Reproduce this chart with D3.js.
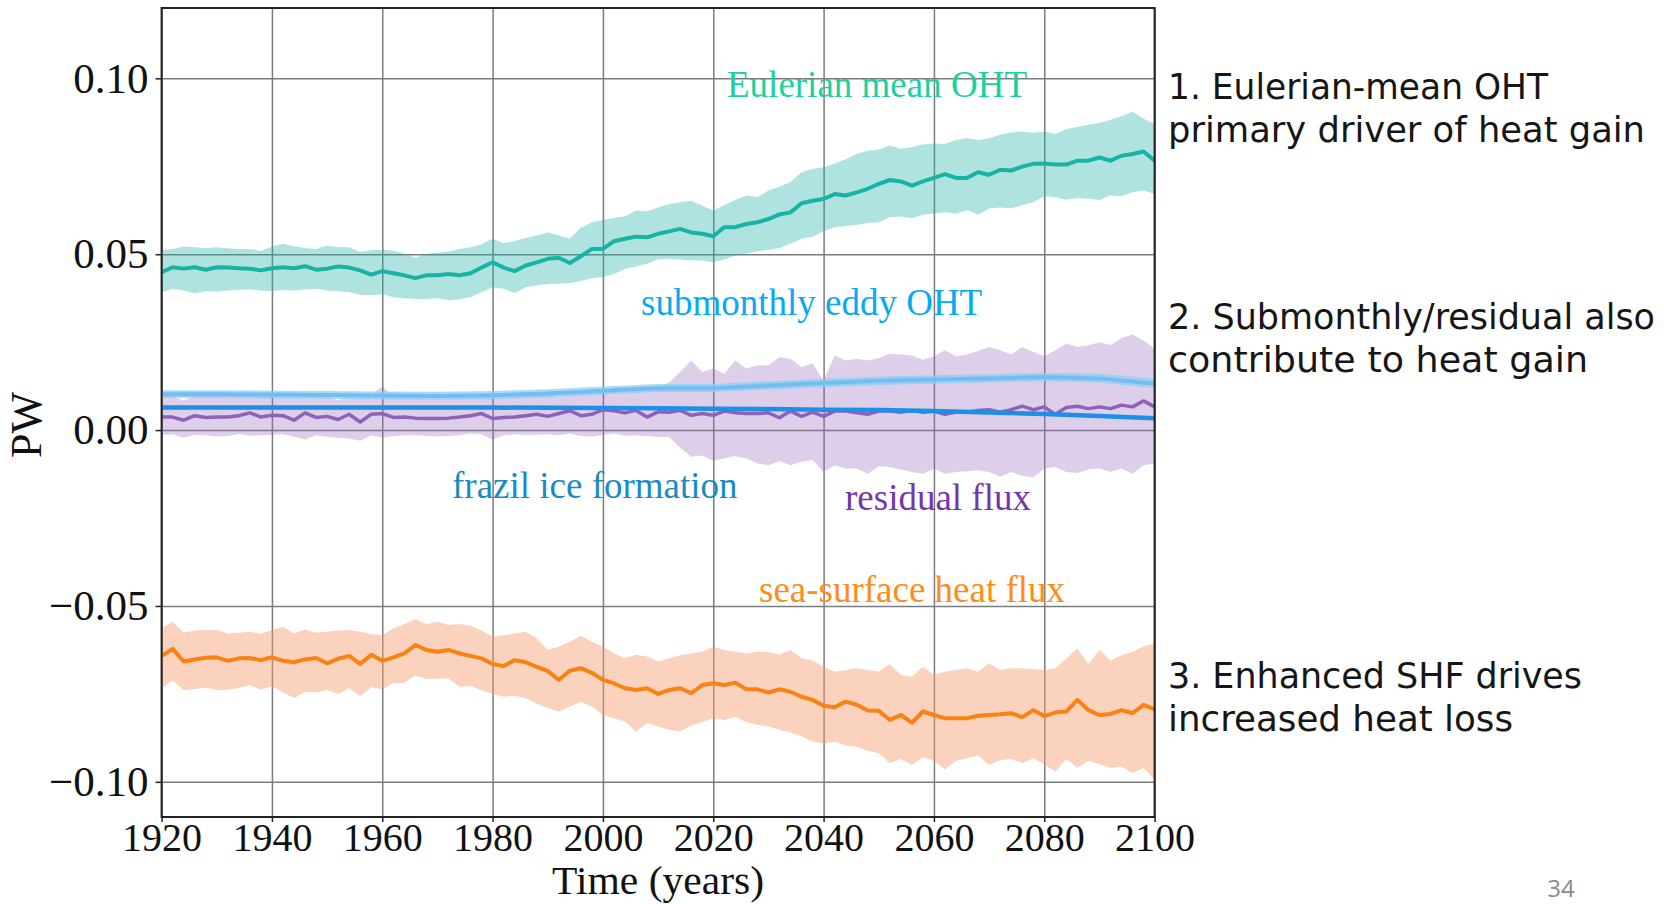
<!DOCTYPE html>
<html>
<head>
<meta charset="utf-8">
<script src="https://cdn.jsdelivr.net/npm/d3@7"></script>
<style>
  body { margin: 0; background: #ffffff; }
  svg { display: block; }
</style>
</head>
<body>
<svg id="chart" width="1664" height="904"></svg>
<script>
// ---- data (PW), sampled every two years 1920–2100 ----
const years = d3.range(1920, 2101, 2);

const eulerMean = [
  .0449,.0463,.0459,.0463,.0456,.0463,.0462,.0460,.0459,.0454,
  .0460,.0463,.0460,.0466,.0456,.0459,.0465,.0462,.0454,.0442,
  .0452,.0446,.0440,.0432,.0440,.0440,.0444,.0440,.0446,.0462,
  .0477,.0462,.0452,.0468,.0477,.0487,.0490,.0475,.0494,.0515,
  .0515,.0537,.0544,.0550,.0548,.0558,.0565,.0572,.0562,.0558,
  .0551,.0577,.0577,.0586,.0591,.0600,.0613,.0619,.0645,.0652,
  .0657,.0671,.0667,.0676,.0686,.0700,.0711,.0707,.0695,.0707,
  .0717,.0728,.0717,.0717,.0733,.0726,.0740,.0738,.0749,.0757,
  .0758,.0755,.0755,.0766,.0766,.0775,.0766,.0780,.0785,.0792,
  .0766];
const eulerHi = [
  .0511,.0515,.0522,.0520,.0518,.0520,.0517,.0515,.0515,.0509,
  .0522,.0530,.0523,.0518,.0515,.0525,.0520,.0520,.0506,.0511,
  .0513,.0510,.0501,.0490,.0501,.0505,.0508,.0515,.0520,.0528,
  .0544,.0531,.0537,.0547,.0553,.0562,.0553,.0545,.0575,.0591,
  .0597,.0603,.0608,.0624,.0622,.0633,.0643,.0648,.0652,.0638,
  .0624,.0640,.0654,.0667,.0662,.0681,.0692,.0705,.0733,.0742,
  .0747,.0758,.0770,.0785,.0794,.0798,.0809,.0800,.0805,.0812,
  .0815,.0813,.0825,.0830,.0825,.0830,.0840,.0846,.0849,.0845,
  .0849,.0842,.0856,.0862,.0868,.0873,.0882,.0892,.0905,.0885,
  .0870];
const eulerLo = [
  .0392,.0402,.0397,.0388,.0395,.0394,.0397,.0399,.0400,.0397,
  .0395,.0398,.0397,.0400,.0402,.0397,.0395,.0392,.0385,.0383,
  .0386,.0378,.0375,.0373,.0373,.0375,.0369,.0372,.0378,.0392,
  .0406,.0402,.0389,.0406,.0411,.0415,.0416,.0418,.0424,.0432,
  .0435,.0444,.0458,.0465,.0473,.0486,.0487,.0485,.0482,.0482,
  .0477,.0485,.0496,.0502,.0508,.0512,.0518,.0530,.0544,.0550,
  .0565,.0577,.0580,.0583,.0589,.0591,.0605,.0607,.0602,.0612,
  .0616,.0619,.0615,.0626,.0612,.0630,.0633,.0631,.0640,.0648,
  .0665,.0662,.0655,.0660,.0658,.0654,.0667,.0665,.0676,.0681,
  .0671];

const shfMean = [
  -.0642,-.0622,-.0658,-.0652,-.0647,-.0646,-.0656,-.0649,-.0648,-.0654,
  -.0646,-.0656,-.0660,-.0652,-.0648,-.0663,-.0650,-.0642,-.0665,-.0639,
  -.0656,-.0646,-.0635,-.0611,-.0625,-.0630,-.0625,-.0635,-.0642,-.0649,
  -.0665,-.0671,-.0654,-.0660,-.0673,-.0685,-.0710,-.0684,-.0677,-.0690,
  -.0710,-.0720,-.0734,-.0739,-.0734,-.0750,-.0739,-.0734,-.0748,-.0725,
  -.0720,-.0725,-.0718,-.0737,-.0737,-.0746,-.0737,-.0744,-.0758,-.0767,
  -.0784,-.0788,-.0772,-.0781,-.0797,-.0798,-.0824,-.0810,-.0832,-.0800,
  -.0810,-.0819,-.0819,-.0819,-.0812,-.0810,-.0808,-.0805,-.0816,-.0796,
  -.0813,-.0803,-.0800,-.0767,-.0796,-.0810,-.0807,-.0796,-.0805,-.0781,
  -.0794];
const shfHi = [
  -.0564,-.0545,-.0576,-.0570,-.0568,-.0568,-.0578,-.0576,-.0573,-.0580,
  -.0568,-.0560,-.0578,-.0567,-.0576,-.0573,-.0570,-.0568,-.0573,-.0580,
  -.0583,-.0564,-.0551,-.0538,-.0551,-.0545,-.0554,-.0551,-.0557,-.0570,
  -.0587,-.0583,-.0578,-.0573,-.0592,-.0625,-.0616,-.0602,-.0585,-.0602,
  -.0616,-.0635,-.0649,-.0639,-.0644,-.0658,-.0649,-.0640,-.0635,-.0630,
  -.0616,-.0625,-.0630,-.0635,-.0630,-.0630,-.0639,-.0625,-.0649,-.0655,
  -.0673,-.0687,-.0682,-.0677,-.0682,-.0687,-.0665,-.0696,-.0701,-.0673,
  -.0696,-.0687,-.0682,-.0677,-.0687,-.0663,-.0682,-.0677,-.0677,-.0680,
  -.0682,-.0677,-.0650,-.0620,-.0665,-.0625,-.0655,-.0640,-.0630,-.0615,
  -.0606];
const shfLo = [
  -.0734,-.0712,-.0739,-.0737,-.0732,-.0740,-.0738,-.0733,-.0725,-.0738,
  -.0728,-.0745,-.0762,-.0744,-.0746,-.0738,-.0750,-.0734,-.0756,-.0731,
  -.0737,-.0720,-.0718,-.0698,-.0708,-.0706,-.0706,-.0730,-.0727,-.0740,
  -.0750,-.0758,-.0755,-.0762,-.0777,-.0790,-.0800,-.0786,-.0772,-.0786,
  -.0810,-.0819,-.0829,-.0857,-.0833,-.0843,-.0852,-.0857,-.0840,-.0830,
  -.0819,-.0824,-.0815,-.0830,-.0838,-.0843,-.0852,-.0860,-.0871,-.0885,
  -.0890,-.0886,-.0897,-.0900,-.0912,-.0919,-.0947,-.0935,-.0952,-.0930,
  -.0940,-.0965,-.0940,-.0933,-.0925,-.0952,-.0938,-.0935,-.0947,-.0933,
  -.0950,-.0971,-.0935,-.0960,-.0940,-.0950,-.0961,-.0957,-.0975,-.0961,
  -.0994];

const residMean = [
  .0037,.0037,.0028,.0041,.0036,.0037,.0037,.0041,.0049,.0037,
  .0042,.0041,.0028,.0049,.0036,.0039,.0030,.0045,.0023,.0045,
  .0047,.0036,.0037,.0034,.0033,.0033,.0034,.0037,.0041,.0047,
  .0033,.0036,.0037,.0041,.0045,.0039,.0047,.0055,.0041,.0045,
  .0058,.0055,.0049,.0056,.0037,.0052,.0051,.0056,.0042,.0047,
  .0042,.0054,.0049,.0047,.0047,.0049,.0035,.0054,.0039,.0051,
  .0039,.0054,.0054,.0049,.0045,.0054,.0054,.0051,.0056,.0051,
  .0054,.0045,.0051,.0051,.0056,.0058,.0051,.0058,.0068,.0058,
  .0066,.0045,.0064,.0068,.0061,.0066,.0061,.0071,.0066,.0083,
  .0066];
const residHi = [
  .0098,.0096,.0084,.0097,.0099,.0098,.0096,.0097,.0099,.0095,
  .0098,.0100,.0094,.0099,.0097,.0096,.0085,.0096,.0094,.0100,
  .0124,.0096,.0094,.0093,.0094,.0093,.0095,.0096,.0097,.0099,
  .0097,.0100,.0101,.0100,.0103,.0104,.0094,.0106,.0108,.0110,
  .0113,.0112,.0114,.0116,.0117,.0120,.0135,.0165,.0198,.0165,
  .0175,.0160,.0198,.0175,.0184,.0184,.0208,.0203,.0179,.0189,
  .0140,.0212,.0198,.0203,.0198,.0205,.0217,.0215,.0212,.0200,
  .0210,.0227,.0210,.0215,.0225,.0236,.0227,.0215,.0236,.0222,
  .0210,.0227,.0246,.0236,.0241,.0250,.0241,.0262,.0272,.0255,
  .0231];
const residLo = [
  -.0015,-.0012,-.0022,-.0013,-.0015,-.0018,-.0017,-.0011,-.0016,-.0015,
  -.0013,-.0012,-.0019,-.0027,-.0015,-.0019,-.0022,-.0024,-.0030,-.0015,
  -.0022,-.0017,-.0015,-.0015,-.0016,-.0018,-.0017,-.0015,-.0010,-.0012,
  -.0027,-.0015,-.0012,-.0014,-.0013,-.0012,-.0015,-.0010,-.0017,-.0019,
  -.0014,-.0010,-.0016,-.0015,-.0017,-.0020,-.0020,-.0050,-.0076,-.0072,
  -.0088,-.0080,-.0074,-.0081,-.0095,-.0100,-.0088,-.0100,-.0090,-.0085,
  -.0119,-.0100,-.0109,-.0109,-.0124,-.0103,-.0105,-.0112,-.0119,-.0124,
  -.0109,-.0124,-.0119,-.0117,-.0114,-.0119,-.0133,-.0119,-.0130,-.0135,
  -.0109,-.0105,-.0119,-.0122,-.0112,-.0109,-.0119,-.0109,-.0124,-.0100,
  -.0095];

// smoother series, sampled every ten years
const subYears = d3.range(1920, 2101, 10);
const subMean = [.0102,.0102,.0101,.0100,.0098,.0097,.0099,.0104,.0112,.0120,.0119,.0127,.0134,.0140,.0144,.0147,.0151,.0147,.0132];
const subHi   = [.0113,.0113,.0112,.0111,.0110,.0109,.0111,.0116,.0124,.0131,.0131,.0139,.0146,.0152,.0156,.0159,.0163,.0160,.0146];
const subLo   = [.0091,.0091,.0090,.0089,.0087,.0086,.0088,.0093,.0101,.0108,.0108,.0115,.0122,.0128,.0132,.0135,.0138,.0135,.0119];

const frazilYears = [1920,1940,1960,1980,2000,2010,2020,2030,2040,2050,2060,2070,2080,2090,2100];
const frazil      = [.0064,.0064,.0064,.0064,.0063,.0062,.0061,.0060,.0058,.0057,.0054,.0050,.0046,.0040,.0034];

const xTicks = [1920,1940,1960,1980,2000,2020,2040,2060,2080,2100];
const yTicks = [-0.10,-0.05,0.00,0.05,0.10];

// ---- layout ----
const svg = d3.select('#chart');
const P = { left: 161.6, right: 1154.6, top: 8, bottom: 817 };
const x = d3.scaleLinear().domain([1920, 2100]).range([P.left, P.right]);
const y = d3.scaleLinear().domain([-0.11, 0.12]).range([P.bottom, P.top]);
const serif = '"Liberation Serif", "Times New Roman", serif';

svg.append('defs').append('clipPath').attr('id', 'plotClip')
  .append('rect').attr('x', P.left).attr('y', P.top)
  .attr('width', P.right - P.left).attr('height', P.bottom - P.top);

// grid
const grid = svg.append('g');
grid.append('g').attr('transform', `translate(0,${P.bottom})`)
  .call(d3.axisBottom(x).tickValues(xTicks).tickSize(-(P.bottom - P.top)).tickFormat(''))
  .call(g => g.select('.domain').remove());
grid.append('g').attr('transform', `translate(${P.left},0)`)
  .call(d3.axisLeft(y).tickValues(yTicks).tickSize(-(P.right - P.left)).tickFormat(''))
  .call(g => g.select('.domain').remove());
grid.selectAll('line').attr('stroke', '#7c7c7c').attr('stroke-width', 1.5);

const layer = svg.append('g').attr('clip-path', 'url(#plotClip)');

function band(xs, lo, hi, fill, op) {
  const a = d3.area().x((d, i) => x(xs[i])).y0((d, i) => y(lo[i])).y1((d, i) => y(hi[i]));
  layer.append('path').datum(xs).attr('d', a).attr('fill', fill).attr('fill-opacity', op);
}
function line(xs, vs, color, w) {
  const l = d3.line().x((d, i) => x(xs[i])).y((d, i) => y(vs[i]));
  layer.append('path').datum(xs).attr('d', l).attr('fill', 'none')
    .attr('stroke', color).attr('stroke-width', w).attr('stroke-linejoin', 'round');
}

band(years, eulerLo, eulerHi, '#20b2aa', 0.36);
band(years, shfLo, shfHi, '#f39b6d', 0.45);
band(years, residLo, residHi, '#9467bd', 0.32);
band(subYears, subLo, subHi, '#8ccdf6', 0.75);

line(years, eulerMean, '#17b3a6', 4);
line(years, shfMean, '#f98212', 4);
line(years, residMean, '#9061bb', 3.5);
line(subYears, subMean, '#74bdf0', 4);
line(frazilYears, frazil, '#1e8fe6', 4.5);

// axes frame
svg.append('rect').attr('x', P.left).attr('y', P.top)
  .attr('width', P.right - P.left).attr('height', P.bottom - P.top)
  .attr('fill', 'none').attr('stroke', '#222').attr('stroke-width', 2);

const xAxis = svg.append('g').attr('transform', `translate(0,${P.bottom})`)
  .call(d3.axisBottom(x).tickValues(xTicks).tickSize(5).tickPadding(1).tickFormat(d3.format('d')));
const yAxis = svg.append('g').attr('transform', `translate(${P.left},0)`)
  .call(d3.axisLeft(y).tickValues(yTicks).tickSize(6).tickPadding(7).tickFormat(d3.format('.2f')));
[xAxis, yAxis].forEach(g => {
  g.select('.domain').remove();
  g.selectAll('line').attr('stroke', '#222').attr('stroke-width', 1.5);
  g.selectAll('text').attr('fill', '#111').style('font-family', serif);
});
xAxis.selectAll('text').style('font-size', '40px');
yAxis.selectAll('text').style('font-size', '43px');

// axis titles
svg.append('text').attr('x', 658).attr('y', 894).attr('text-anchor', 'middle')
  .attr('textLength', 212).attr('lengthAdjust', 'spacingAndGlyphs')
  .style('font-family', serif).style('font-size', '40px').attr('fill', '#111').text('Time (years)');
svg.append('text').attr('transform', 'translate(41,425) rotate(-90)').attr('text-anchor', 'middle')
  .style('font-family', serif).style('font-size', '44px').attr('fill', '#111').text('PW');

// series labels inside the axes
const seriesLabels = [
  { text: 'Eulerian mean OHT',     x: 727, y: 97,  color: '#1ccfa3' },
  { text: 'submonthly eddy OHT',   x: 641, y: 315, color: '#07aaf0' },
  { text: 'frazil ice formation',  x: 452, y: 498, color: '#1a8bc2' },
  { text: 'residual flux',         x: 845, y: 510, color: '#7535ad' },
  { text: 'sea-surface heat flux', x: 759, y: 602, color: '#ff8c1a' }
];
svg.append('g').selectAll('text').data(seriesLabels).join('text')
  .attr('x', d => d.x).attr('y', d => d.y).attr('fill', d => d.color)
  .style('font-family', serif).style('font-size', '37px').text(d => d.text);

// side notes
const notes = [
  { text: '1. Eulerian-mean OHT',         y: 99,  w: 380 },
  { text: 'primary driver of heat gain',  y: 142, w: 477 },
  { text: '2. Submonthly/residual also',  y: 329, w: 487 },
  { text: 'contribute to heat gain',      y: 372, w: 420 },
  { text: '3. Enhanced SHF drives',       y: 688, w: 414 },
  { text: 'increased heat loss',          y: 731, w: 345 }
];
svg.append('g').selectAll('text').data(notes).join('text')
  .attr('x', 1168).attr('y', d => d.y)
  .attr('textLength', d => d.w).attr('lengthAdjust', 'spacingAndGlyphs')
  .attr('fill', '#161616')
  .style('font-family', '"DejaVu Sans", sans-serif').style('font-size', '35px')
  .text(d => d.text);

svg.append('text').attr('x', 1561).attr('y', 897).attr('text-anchor', 'middle')
  .attr('fill', '#8a8a8a').style('font-family', '"Open Sans", sans-serif').style('font-size', '24px')
  .text('34');
</script>
</body>
</html>
